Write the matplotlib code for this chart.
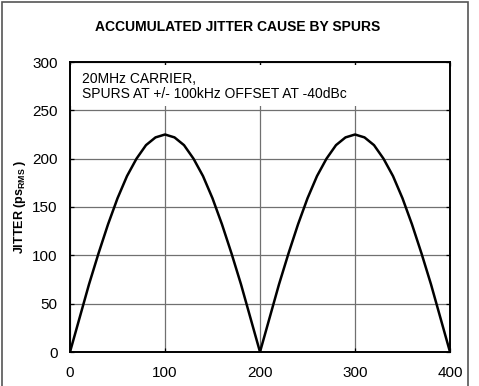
import matplotlib
matplotlib.use("Agg")
import matplotlib.pyplot as plt
from matplotlib.patches import Rectangle

plt.rcParams['font.family'] = ['Liberation Sans', 'DejaVu Sans']
plt.rcParams['mathtext.fontset'] = 'custom'
plt.rcParams['mathtext.rm'] = 'Liberation Sans'
plt.rcParams['mathtext.bf'] = 'Liberation Sans:bold'

# Data
offset = [0, 10, 20, 30, 40, 50, 60, 70, 80, 90, 100, 110, 120, 130, 140, 150,
          160, 170, 180, 190, 200, 210, 220, 230, 240, 250, 260, 270, 280, 290,
          300, 310, 320, 330, 340, 350, 360, 370, 380, 390, 400]
jitter = [0, 35, 70, 102, 132, 159, 182, 200, 214, 222, 225, 222, 214, 200, 182,
          159, 132, 102, 70, 35, 0, 35, 70, 102, 132, 159, 182, 200, 214, 222,
          225, 222, 214, 200, 182, 159, 132, 102, 70, 35, 0]
xticks = [0, 100, 200, 300, 400]
yticks = [0, 50, 100, 150, 200, 250, 300]

title = "ACCUMULATED JITTER CAUSE BY SPURS"
note = "20MHz CARRIER,\nSPURS AT +/- 100kHz OFFSET AT -40dBc"
ylabel = r"JITTER (ps$_{\mathbf{RMS}}$ )"

fig = plt.figure(figsize=(4.79, 3.86), dpi=100)
ax = fig.add_axes([70/479, 34/386, 380/479, 290/386])

ax.set_xlim(0, 400)
ax.set_ylim(0, 300)
ax.set_xticks(xticks)
ax.set_yticks(yticks)
ax.set_axisbelow(True)
ax.grid(True, color='#707070', linewidth=0.9)
ax.tick_params(direction='in', length=3, width=0.9, top=True, right=True,
               labelsize=11, colors='black')
ax.tick_params(axis='y', pad=9)
ax.tick_params(axis='x', pad=10)
for s in ax.spines.values():
    s.set_linewidth(1.4)
    s.set_color('black')

# white box behind the note
ax.add_patch(Rectangle((1, 254), 398, 43, facecolor='white', edgecolor='none', zorder=0.8))

ax.plot(offset, jitter, color='black', linewidth=1.8, zorder=3)

ax.text(12.5, 290, note, fontsize=10, va='top', ha='left', linespacing=1.12, zorder=4)

fig.text(237.5/479, 1 - 27/386, title, fontsize=10, fontweight='bold',
         ha='center', va='center')
fig.text(20/479, 1 - 207/386, ylabel, fontsize=9, fontweight='bold',
         rotation=90, ha='center', va='center')

# outer frame
fig.patches.append(Rectangle((2/479, -0.01), 466/479, 1 - 1.5/386 + 0.01,
                             transform=fig.transFigure, fill=False,
                             edgecolor='#555555', linewidth=1.2))

fig.savefig("out.png", dpi=100)
